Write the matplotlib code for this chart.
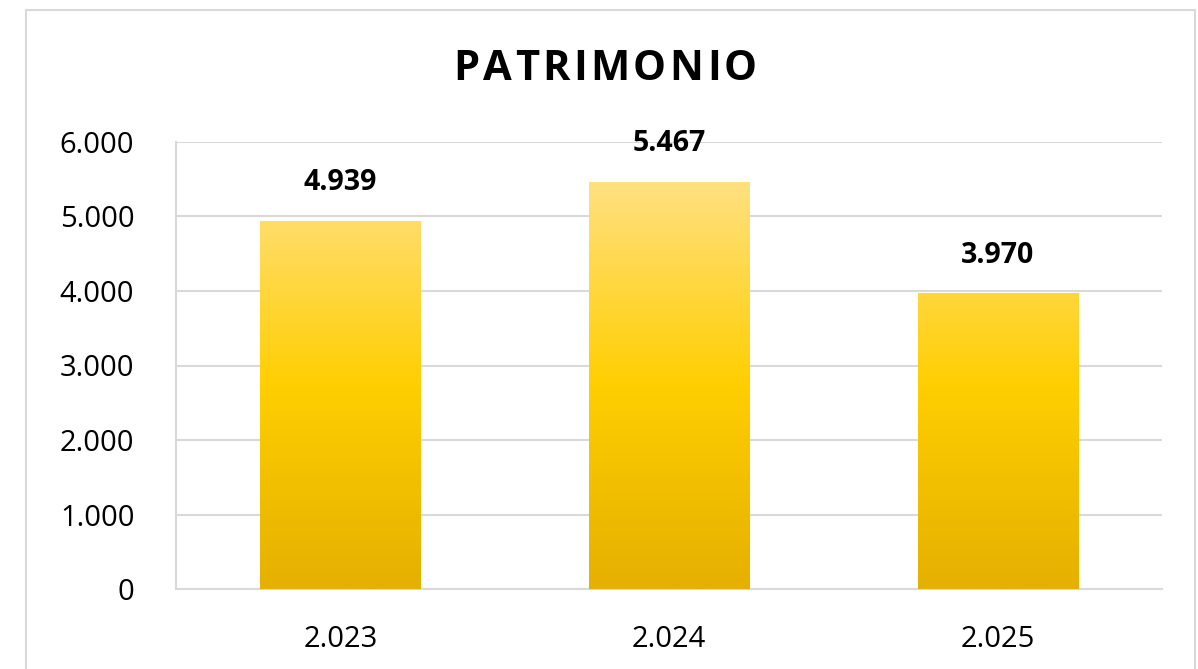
import numpy as np
import matplotlib
matplotlib.use("Agg")
import matplotlib.pyplot as plt
from matplotlib.colors import LinearSegmentedColormap
from matplotlib.patches import Rectangle

# datos
anios = ["2.023", "2.024", "2.025"]
valores = [4939, 5467, 3970]
etiquetas = ["4.939", "5.467", "3.970"]
ticks_y = [0, 1000, 2000, 3000, 4000, 5000, 6000]
ticks_y_txt = ["0", "1.000", "2.000", "3.000", "4.000", "5.000", "6.000"]
titulo = "PATRIMONIO"

plt.rcParams['font.family'] = ['Open Sans', 'DejaVu Sans']

W, H = 1198, 669
fig = plt.figure(figsize=(W / 100, H / 100), dpi=100)
fig.patch.set_facecolor("white")

# marco exterior gris
fig.add_artist(Rectangle((26 / W, -0.05), (1195 - 26) / W, 1.05 - 10 / H,
                         transform=fig.transFigure, fill=False,
                         edgecolor="#d9d9d9", linewidth=1.5))

ax = fig.add_axes([176 / W, 1 - 589 / H, (1162 - 176) / W, (589 - 142) / H])
ax.set_xlim(-0.5, 2.5)
ax.set_ylim(0, 6000)

# degradado amarillo (según altura en el eje)
cmap = LinearSegmentedColormap.from_list("oro", [
    (0.0, "#e5b000"), (0.45, "#ffce00"), (0.9, "#ffe07e"), (1.0, "#ffe48e")])
grad = np.linspace(0, 1, 256).reshape(-1, 1)

x = np.arange(len(anios))
ancho = 0.487
barras = ax.bar(x, valores, width=ancho, color="none", zorder=3)
for b in barras:
    im = ax.imshow(grad, cmap=cmap, origin="lower", aspect="auto",
                   extent=(b.get_x(), b.get_x() + b.get_width(), 0, 6000),
                   zorder=3)
    im.set_clip_path(b)

for xi, v, t in zip(x, valores, etiquetas):
    ax.annotate(t, (xi, v), xytext=(0, 17), textcoords="offset points",
                ha="center", va="bottom", fontsize=20.5, fontweight="bold",
                color="#000000")

ax.set_yticks(ticks_y)
ax.set_yticklabels(ticks_y_txt)
ax.set_xticks(x)
ax.set_xticklabels(anios)
ax.tick_params(axis="y", length=0, pad=30, labelsize=21, labelcolor="#000000")
ax.tick_params(axis="x", length=0, pad=26, labelsize=21, labelcolor="#000000")

ax.grid(axis="y", color="#d9d9d9", linewidth=1.5, zorder=0)
ax.set_axisbelow(True)
for s in ["top", "right"]:
    ax.spines[s].set_visible(False)
ax.spines["left"].set_color("#d9d9d9")
ax.spines["left"].set_linewidth(1.5)
ax.spines["bottom"].set_color("#d9d9d9")
ax.spines["bottom"].set_linewidth(1.5)

# título con espaciado entre letras, ancho total ~304 px
fig.canvas.draw()
r = fig.canvas.get_renderer()
tam = 30
piezas = []
for c in titulo:
    t = fig.text(0, 0, c, fontsize=tam, fontweight="bold", color="#000000")
    piezas.append((t, t.get_window_extent(r).width))
ancho_letras = sum(w for _, w in piezas)
espacio = max(0, (304 - ancho_letras) / (len(piezas) - 1))
xpos = 605 - (ancho_letras + espacio * (len(piezas) - 1)) / 2
for t, w in piezas:
    t.set_position((xpos / W, 1 - 69 / H))
    t.set_va("center")
    xpos += w + espacio

fig.savefig("out.png", dpi=100, facecolor="white")
